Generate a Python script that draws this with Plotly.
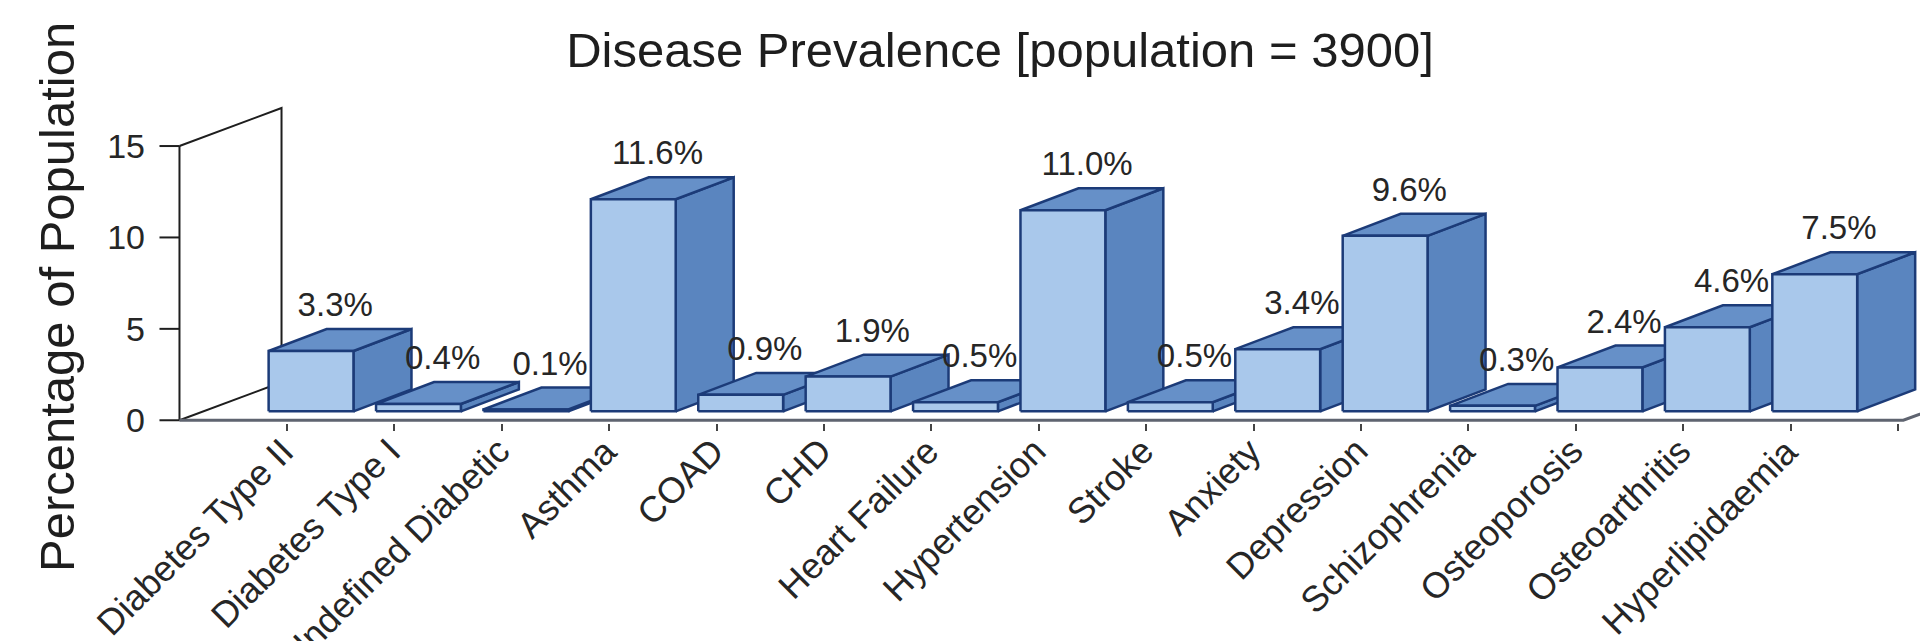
import plotly.graph_objects as go

# ---- data -------------------------------------------------------------
categories = [
    "Diabetes Type II", "Diabetes Type I", "Undefined Diabetic", "Asthma",
    "COAD", "CHD", "Heart Failure", "Hypertension", "Stroke", "Anxiety",
    "Depression", "Schizophrenia", "Osteoporosis", "Osteoarthritis",
    "Hyperlipidaemia",
]
prevalence = [3.3, 0.4, 0.1, 11.6, 0.9, 1.9, 0.5, 11.0, 0.5, 3.4, 9.6, 0.3, 2.4, 4.6, 7.5]
y_ticks = [0, 5, 10, 15]

# ---- canvas / axis scale ---------------------------------------------
W, H = 1920, 641
PX_X = 107.4     # pixels per category step
PX_Y = 18.27     # pixels per percentage point
X0_PX = 287      # pixel column of the first category on the front edge
Y0_PX = 420      # pixel row of the zero line on the front edge

x_min, x_max = -1.2, (W - X0_PX) / PX_X
y_min, y_max = -0.15, Y0_PX / PX_Y
m_l = X0_PX + x_min * PX_X
plot_bottom = Y0_PX - y_min * PX_Y
m_b = H - plot_bottom
plot_w = W - m_l
plot_h = plot_bottom

# oblique "3-D" projection: full floor depth and bar placement (data units)
DEPTH_X, DEPTH_Y = 0.95, 2.08          # floor depth vector
FRONT_X, FRONT_Y = 0.225, 0.49         # bar front plane offset
BAR_DX, BAR_DY = 0.54, 1.2             # bar depth
HALF_W = 0.395                         # half bar width

FRONT_COL = "#a9c8eb"
TOP_COL = "#6690c8"
SIDE_COL = "#5a85bf"
EDGE_COL = "#1c3b78"
TEXT_COL = "#262626"
FONT = "Liberation Sans, Arial, sans-serif"

fig = go.Figure()

def poly(xs, ys, fill, lw=2.5, color=EDGE_COL):
    fig.add_trace(go.Scatter(
        x=xs, y=ys, mode="lines", fill="toself", fillcolor=fill,
        line=dict(color=color, width=lw), hoverinfo="skip", showlegend=False,
    ))

def line(xs, ys, color="#1e1e1e", lw=2):
    fig.add_trace(go.Scatter(
        x=xs, y=ys, mode="lines", line=dict(color=color, width=lw),
        hoverinfo="skip", showlegend=False,
    ))

# back wall, left floor edge and value axis
left = -1.0
top = max(y_ticks)
line([left, left + DEPTH_X, left + DEPTH_X], [top, top + DEPTH_Y, DEPTH_Y])
line([left, left + DEPTH_X], [0, DEPTH_Y])
tick_len = 20 / PX_X
ax_x, ax_y = [left, left], [0, top]
for t in y_ticks:
    ax_x += [None, left - tick_len, left]
    ax_y += [None, t, t]
line(ax_x, ax_y, lw=2)

# front floor edge
right = len(categories) + 0.05
line([left, right, right + DEPTH_X], [0, 0, DEPTH_Y], color="#5f6470", lw=3)

# bars, drawn left to right so nearer faces overlap correctly
for i, v in enumerate(prevalence):
    x0 = i - HALF_W + FRONT_X
    x1 = i + HALF_W + FRONT_X
    yb = FRONT_Y
    yt = v + FRONT_Y
    poly([x1, x1 + BAR_DX, x1 + BAR_DX, x1, x1],
         [yb, yb + BAR_DY, yt + BAR_DY, yt, yb], SIDE_COL)
    poly([x0, x1, x1 + BAR_DX, x0 + BAR_DX, x0],
         [yt, yt, yt + BAR_DY, yt + BAR_DY, yt], TOP_COL)
    poly([x0, x1, x1, x0, x0], [yb, yb, yt, yt, yb], FRONT_COL)

# value labels above each bar
fig.add_trace(go.Scatter(
    x=[i + 0.45 for i in range(len(prevalence))],
    y=[v + 2.85 for v in prevalence],
    mode="text",
    text=[f"{v:.1f}%" for v in prevalence],
    textposition="middle center",
    textfont=dict(family=FONT, size=33, color=TEXT_COL),
    cliponaxis=False, hoverinfo="skip", showlegend=False,
))

# slanted category labels hanging from the front edge
label_top = (plot_bottom - 427) / plot_h
annotations = [
    dict(
        text=name, textangle=-45,
        xref="x", x=i + 0.165, yref="paper", y=label_top,
        xanchor="right", yanchor="top", showarrow=False,
        font=dict(family=FONT, size=36, color=TEXT_COL),
    )
    for i, name in enumerate(categories)
]
annotations.append(dict(
    text="Percentage of Population", textangle=-90,
    xref="paper", yref="paper",
    x=(57 - m_l) / plot_w, y=(plot_bottom - 297) / plot_h,
    xanchor="center", yanchor="middle", showarrow=False,
    font=dict(family=FONT, size=49, color="#1e1e1e"),
))

fig.update_layout(
    width=W, height=H,
    margin=dict(l=m_l, r=0, t=0, b=m_b, pad=0),
    paper_bgcolor="white", plot_bgcolor="white",
    font=dict(family=FONT, color=TEXT_COL),
    title=dict(
        text="Disease Prevalence [population = 3900]",
        x=1000 / W, xanchor="center", y=1 - 50 / H, yanchor="middle",
        font=dict(size=49, color="#1e1e1e"),
    ),
    xaxis=dict(
        range=[x_min, x_max], showgrid=False, zeroline=False, showline=False,
        tickmode="array",
        tickvals=list(range(len(categories) + 1)),
        ticks="outside", ticklen=7, tickwidth=2, tickcolor="#444",
        showticklabels=False,
        automargin=False, fixedrange=True,
    ),
    yaxis=dict(
        range=[y_min, y_max], showgrid=False, zeroline=False, showline=False,
        tickmode="array", tickvals=y_ticks, ticks="",
        ticklabelstandoff=12,
        tickfont=dict(size=34, color=TEXT_COL),
        automargin=False, fixedrange=True,
    ),
    annotations=annotations,
)

fig.write_html("out.html")
